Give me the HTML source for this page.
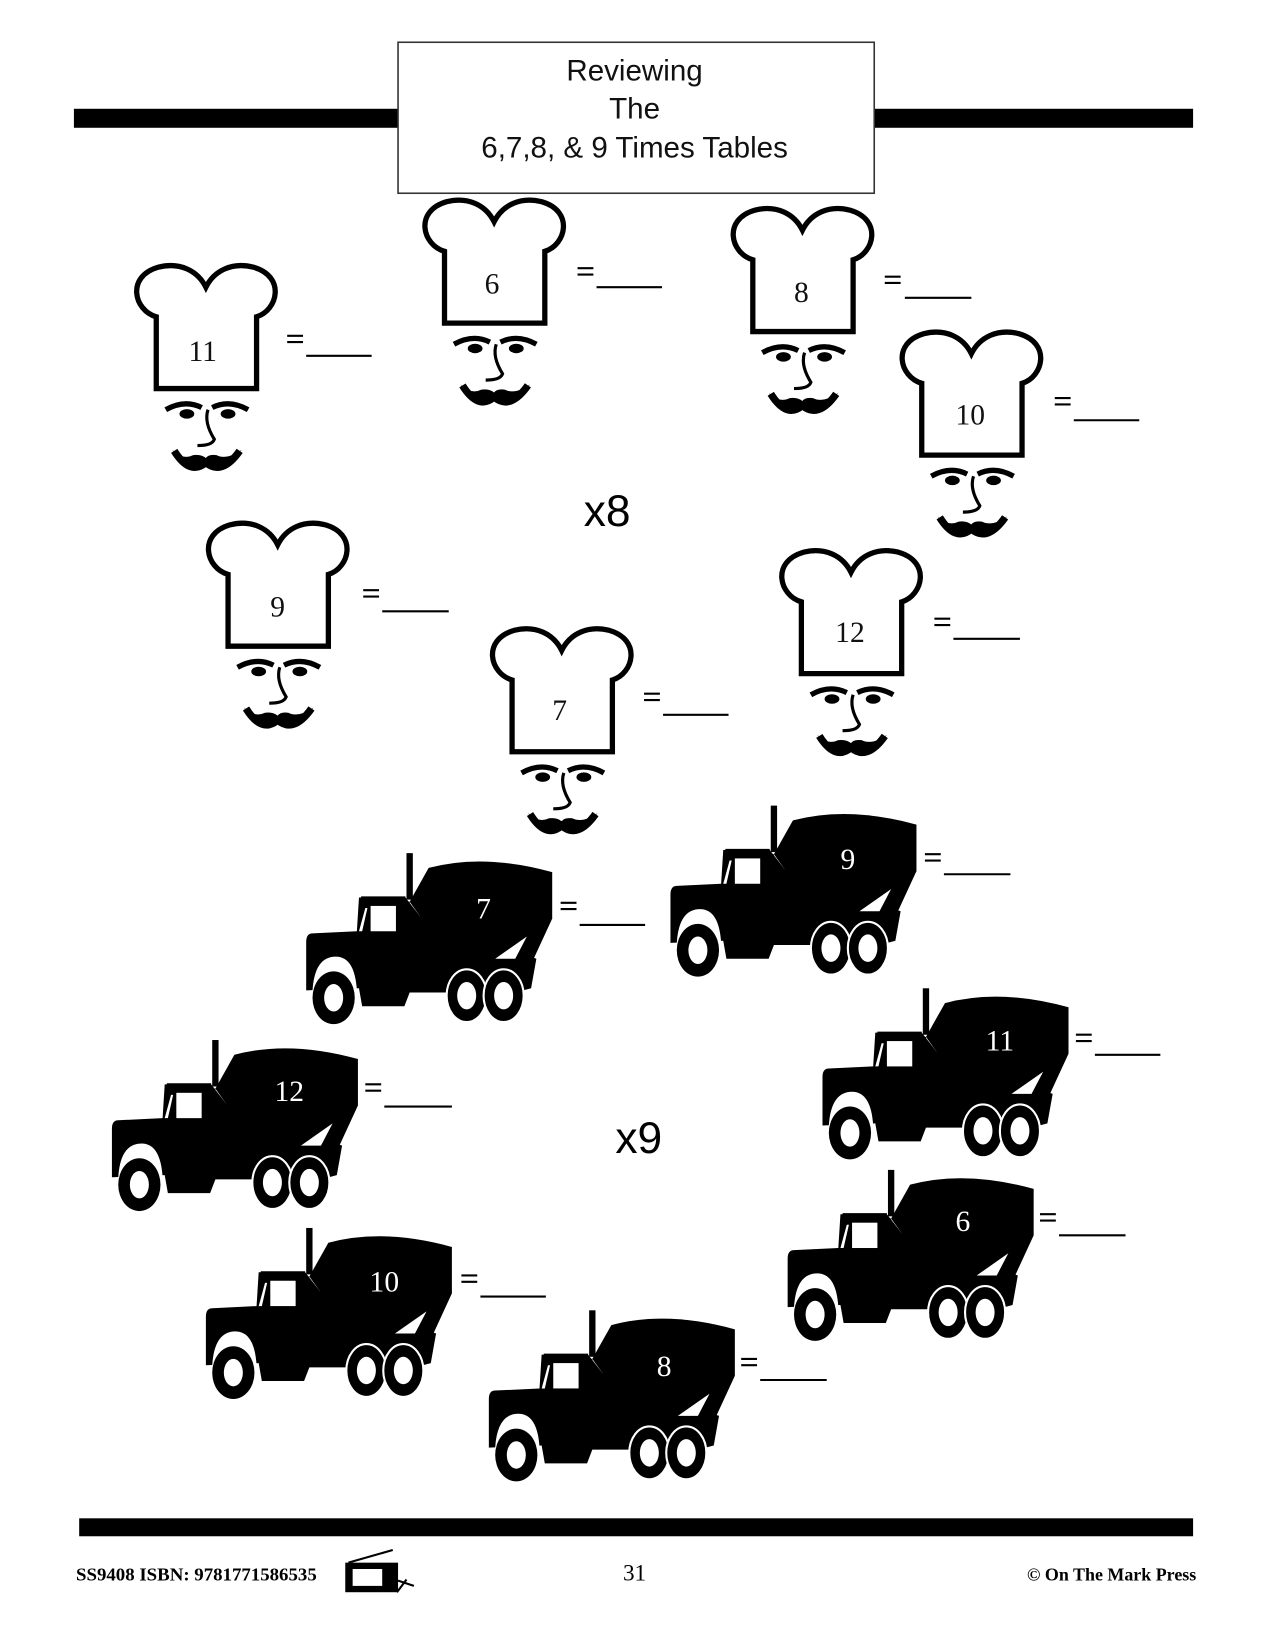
<!DOCTYPE html>
<html><head><meta charset="utf-8"><style>
html,body{margin:0;padding:0;background:#fff;}
svg{display:block;}
</style></head><body>
<svg width="1267" height="1650" viewBox="0 0 1200 1562.7" xmlns="http://www.w3.org/2000/svg">
<defs>
<g id="chef">
  <path d="M23,118 L23,50 C2,44 -6,12 25,3 C45,-2 62,6 70,22 C78,6 95,-2 115,3 C146,12 138,44 118,50 L118,118 Z" fill="#fff" stroke="#000" stroke-width="5" stroke-linejoin="miter"/>
  <path d="M32,138 Q50,128 66,136" fill="none" stroke="#000" stroke-width="5"/>
  <path d="M76,136 Q92,128 110,138" fill="none" stroke="#000" stroke-width="5"/>
  <ellipse cx="52" cy="142" rx="7" ry="4.5" fill="#000"/>
  <ellipse cx="91" cy="142" rx="7" ry="4.5" fill="#000"/>
  <path d="M72,138 Q68,150 78,166 Q76,172 62,172" fill="none" stroke="#000" stroke-width="3"/>
  <path d="M38,176 Q52,196 70,190 Q88,196 104,176 Q90,186 80,181 Q72,180 70,184 Q66,180 58,181 Q48,186 38,176 Z" fill="#000"/>
  <path d="M40,177 Q55,201 70,188 Q85,201 102,177" fill="none" stroke="#000" stroke-width="7"/>
</g>
<g id="truck">
  <rect x="97" y="0" width="6" height="44" fill="#000"/>
  <path d="M100,46 L118,14 Q170,0 235,18 L235,62 L211,114 L150,116 Z" fill="#000"/>
  <path d="M54,41 L96,41 L96,48 L54,48 Z" fill="#000"/>
  <path d="M8,76 L50,74 L52,42 L96,42 L110,60 L220,100 L215,128 L200,132 L100,132 L95,145 L55,145 L52,128 L2,130 L2,84 Q2,76 8,76 Z" fill="#000"/>
  <rect x="60" y="46" width="40" height="40" fill="#000"/>
  <rect x="63" y="50" width="24" height="24" fill="#fff"/>
  <path d="M58,52 L52,74 L55,74 L60,52 Z" fill="#fff"/>
  <path d="M181,100 L211,79 L200,100 Z" fill="#fff"/>
  <path d="M8,130 Q10,98 30,98 Q48,98 50,130 Z" fill="#fff"/>
  <ellipse cx="28" cy="137" rx="20" ry="25" fill="#000"/>
  <ellipse cx="28" cy="137" rx="9" ry="13" fill="#fff"/>
  <ellipse cx="154" cy="135" rx="19" ry="25" fill="#000" stroke="#fff" stroke-width="2"/>
  <ellipse cx="154" cy="135" rx="9" ry="13" fill="#fff"/>
  <ellipse cx="189" cy="135" rx="19" ry="25" fill="#000" stroke="#fff" stroke-width="2"/>
  <ellipse cx="189" cy="135" rx="9" ry="13" fill="#fff"/>
</g>
</defs>

<rect x="70" y="103" width="1060" height="18" fill="#000"/>
<rect x="377" y="40" width="451" height="143" fill="#fff" stroke="#333" stroke-width="1.5"/>
<g font-family="Liberation Sans, sans-serif" font-size="28" text-anchor="middle" fill="#111">
<text x="601" y="76">Reviewing</text>
<text x="601" y="112">The</text>
<text x="601" y="149">6,7,8, &amp; 9 Times Tables</text>
</g>

<g font-family="Liberation Serif, serif" font-size="28" text-anchor="middle" fill="#111">
<use href="#chef" x="125" y="250"/><text x="192" y="342">11</text>
<use href="#chef" x="398" y="188"/><text x="466" y="278">6</text>
<use href="#chef" x="690" y="196"/><text x="759" y="286">8</text>
<use href="#chef" x="850" y="313"/><text x="919" y="402">10</text>
<use href="#chef" x="193" y="494"/><text x="263" y="584">9</text>
<use href="#chef" x="736" y="520"/><text x="805" y="608">12</text>
<use href="#chef" x="462" y="594"/><text x="530" y="682">7</text>
</g>

<g font-family="Liberation Sans, sans-serif" font-size="42" text-anchor="middle" fill="#000">
<text x="575" y="498">x8</text>
<text x="605" y="1092">x9</text>
</g>

<use href="#truck" x="288" y="808"/>
<use href="#truck" x="633" y="763"/>
<use href="#truck" x="104" y="985"/>
<use href="#truck" x="777" y="936"/>
<use href="#truck" x="744" y="1108"/>
<use href="#truck" x="193" y="1163"/>
<use href="#truck" x="461" y="1241"/>
<g font-family="Liberation Serif, serif" font-size="28" text-anchor="middle" fill="#fff">
<text x="458" y="870">7</text>
<text x="803" y="823">9</text>
<text x="274" y="1043">12</text>
<text x="947" y="995">11</text>
<text x="912" y="1166">6</text>
<text x="364" y="1223">10</text>
<text x="629" y="1303">8</text>
</g>

<g stroke="#000" stroke-width="2" fill="none">
<path d="M272,318 h15 M272,324 h15 M290,337 h62"/>
<path d="M547,254 h15 M547,260 h15 M565,272 h62"/>
<path d="M838,262 h15 M838,268 h15 M857,282 h63"/>
<path d="M999,377 h15 M999,383 h15 M1017,398 h62"/>
<path d="M344,559 h15 M344,565 h15 M362,579 h63"/>
<path d="M885,586 h15 M885,592 h15 M903,605 h63"/>
<path d="M610,657 h15 M610,663 h15 M628,677 h62"/>
<path d="M531,855 h15 M531,861 h15 M549,876 h62"/>
<path d="M876,809 h15 M876,815 h15 M894,828 h63"/>
<path d="M346,1027 h15 M346,1033 h15 M364,1048 h64"/>
<path d="M1019,980 h15 M1019,986 h15 M1037,999 h62"/>
<path d="M985,1150 h15 M985,1156 h15 M1003,1170 h63"/>
<path d="M437,1208 h15 M437,1214 h15 M455,1228 h62"/>
<path d="M702,1287 h15 M702,1293 h15 M720,1307 h63"/>
</g>

<rect x="75" y="1438" width="1055" height="17" fill="#000"/>
<g font-family="Liberation Serif, serif" font-weight="bold" font-size="17" fill="#000">
<text x="72" y="1497" textLength="228" lengthAdjust="spacingAndGlyphs">SS9408  ISBN: 9781771586535</text>
<text x="1133" y="1497" text-anchor="end">© On The Mark Press</text>
</g>
<text x="601" y="1497" font-family="Liberation Serif, serif" font-size="22" text-anchor="middle">31</text>
<rect x="327" y="1480" width="50" height="28" fill="#000"/>
<rect x="334" y="1486" width="28" height="16" fill="#fff"/>
<path d="M330,1480 L372,1468 M377,1497 L392,1502 M376,1508 L385,1496" stroke="#000" stroke-width="2"/>
</svg>
</body></html>
